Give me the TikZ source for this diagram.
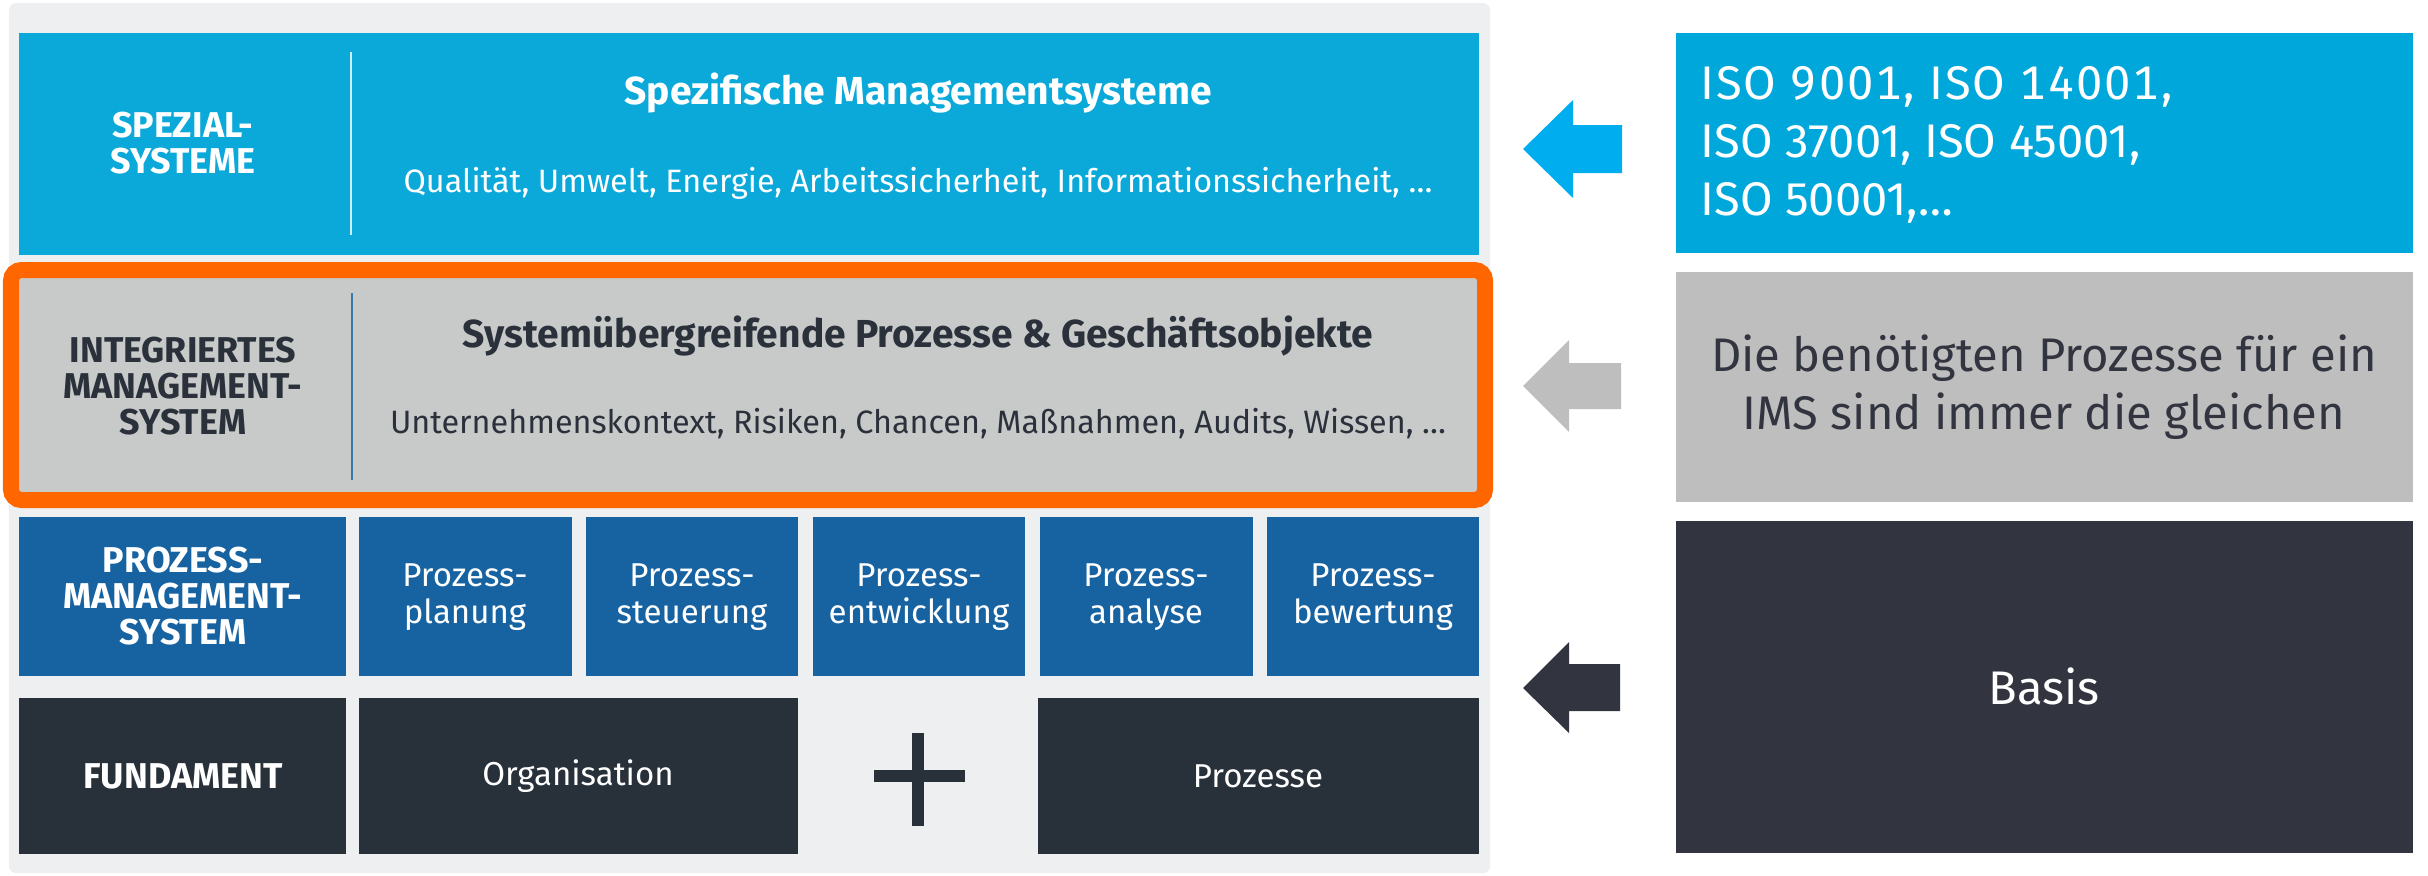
\documentclass[tikz,border=0pt]{standalone}
\usepackage{fontspec}
\setmainfont{Fira Sans}
\newfontfamily\isofont[Numbers=Monospaced, LetterSpace=4]{Fira Sans}

\definecolor{spezblue}{HTML}{0AA9DA}
\definecolor{isoblue}{HTML}{00A7DB}
\definecolor{arrowblue}{HTML}{00AEEF}
\definecolor{imsgray}{HTML}{C8CAC9}
\definecolor{hintgray}{HTML}{BEBEBE}
\definecolor{imsorange}{HTML}{FF6600}
\definecolor{pmsblue}{HTML}{1763A2}
\definecolor{fundark}{HTML}{28303A}
\definecolor{basisdark}{HTML}{32353F}
\definecolor{panelgray}{HTML}{EEEFF1}
\definecolor{inktext}{HTML}{2B313B}

\tikzset{
  rowlabel/.style={align=center, font=\fontsize{10.2}{10.3}\selectfont\bfseries},
  rowtitle/.style={font=\fontsize{11.1}{13}\selectfont\bfseries},
  rowsub/.style={font=\fontsize{9.2}{11}\selectfont},
  pmstext/.style={align=center, text=white, font=\fontsize{9.4}{10.5}\selectfont},
  sidetext/.style={font=\fontsize{13.4}{16.4}\selectfont}
}

\begin{document}
\begin{tikzpicture}[x=0.01cm, y=-0.01cm]
  \useasboundingbox (0,0) rectangle (2428,875);
  \fill[white] (0,0) rectangle (2428,875);

  % panel
  \fill[panelgray, rounded corners=2pt] (9,3) rectangle (1490,873);

  % Spezialsysteme
  \fill[spezblue] (19,33) rectangle (1479,255);
  \draw[white!80!spezblue, line width=0.8pt] (351,52) -- (351,235);
  \node[rowlabel, text=white] (spezlabel) at (183,143) {SPEZIAL-\\SYSTEME};
  \node[rowtitle, text=white] (speztitle) at (918,93) {Spezifische Managementsysteme};
  \node[rowsub, text=white] (spezsub) at (918,183) {Qualität, Umwelt, Energie, Arbeitssicherheit, Informationssicherheit, \dots};

  % Integriertes Managementsystem
  \fill[imsgray] (19,278) rectangle (1478,493);
  \draw[imsorange, line width=4.55pt, rounded corners=3pt] (11,270) rectangle (1485,500);
  \draw[pmsblue!80!imsgray, line width=0.8pt] (352,293) -- (352,480);
  \node[rowlabel, text=inktext] (imslabel) at (183,386) {INTEGRIERTES\\MANAGEMENT-\\SYSTEM};
  \node[rowtitle, text=inktext] (imstitle) at (918,336) {Systemübergreifende Prozesse \& Geschäftsobjekte};
  \node[rowsub, text=inktext] (imssub) at (918,424) {Unternehmenskontext, Risiken, Chancen, Maßnahmen, Audits, Wissen, \dots};

  % Prozessmanagementsystem
  \fill[pmsblue] (19,517) rectangle (346,676);
  \node[rowlabel, text=white] (pmslabel) at (183,596) {PROZESS-\\MANAGEMENT-\\SYSTEM};

  \fill[pmsblue] (359,517) rectangle (572,676);
  \node[pmstext] (planung) at (465,597) {Prozess-\\planung};

  \fill[pmsblue] (586,517) rectangle (798,676);
  \node[pmstext] (steuerung) at (692,597) {Prozess-\\steuerung};

  \fill[pmsblue] (813,517) rectangle (1025,676);
  \node[pmstext] (entwicklung) at (919,597) {Prozess-\\entwicklung};

  \fill[pmsblue] (1040,517) rectangle (1253,676);
  \node[pmstext] (analyse) at (1146,597) {Prozess-\\analyse};

  \fill[pmsblue] (1267,517) rectangle (1479,676);
  \node[pmstext] (bewertung) at (1373,597) {Prozess-\\bewertung};

  % Fundament
  \fill[fundark] (19,698) rectangle (346,854);
  \node[rowlabel, text=white] (fundlabel) at (183,776) {FUNDAMENT};

  \fill[fundark] (359,698) rectangle (798,854);
  \node[pmstext] (organisation) at (578,776) {Organisation};

  \fill[fundark] (874,770) rectangle (965,782);
  \fill[fundark] (912,733) rectangle (924,826);

  \fill[fundark] (1038,698) rectangle (1479,854);
  \node[pmstext] (prozesse) at (1258,776) {Prozesse};

  % Pfeile
  \fill[arrowblue] (1523,149) -- (1573,100) -- (1573,125) -- (1622,125)
    -- (1622,173) -- (1573,173) -- (1573,198) -- cycle;
  \fill[hintgray] (1523,386) -- (1569,340) -- (1569,363) -- (1621,363)
    -- (1621,409) -- (1569,409) -- (1569,432) -- cycle;
  \fill[basisdark] (1523,688) -- (1569,642) -- (1569,664) -- (1620,664)
    -- (1620,711) -- (1569,711) -- (1569,733) -- cycle;

  % rechte Seite
  \fill[isoblue] (1676,33) rectangle (2413,253);
  \node[sidetext, text=white, align=left, anchor=west] (iso) at (1688,145)
    {\isofont ISO 9001, ISO 14001,\\ISO 37001, ISO 45001,\\ISO 50001,\dots};

  \fill[hintgray] (1676,272) rectangle (2413,502);
  \node[sidetext, text=basisdark, align=center] (hint) at (2044,387)
    {Die benötigten Prozesse für ein\\IMS sind immer die gleichen};

  \fill[basisdark] (1676,521) rectangle (2413,853);
  \node[sidetext, text=white] (basis) at (2044,686) {Basis};
\end{tikzpicture}
\end{document}
